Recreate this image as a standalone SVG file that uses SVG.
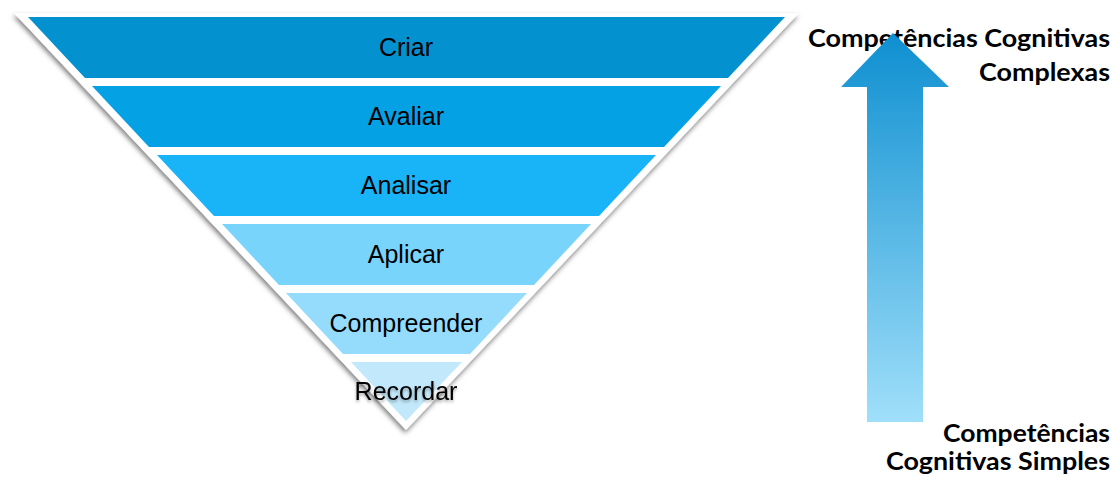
<svg xmlns="http://www.w3.org/2000/svg" width="1115" height="480" viewBox="0 0 1115 480">
<defs>
<filter id="sh" x="-10%" y="-10%" width="120%" height="130%">
<feDropShadow dx="-1" dy="3" stdDeviation="2.5" flood-color="#000" flood-opacity="0.5"/>
</filter>
<filter id="tsh" x="-10%" y="-30%" width="120%" height="160%">
<feDropShadow dx="0" dy="2" stdDeviation="1.5" flood-color="#000" flood-opacity="0.35"/>
</filter>
<linearGradient id="ag" x1="0" y1="0" x2="0" y2="1">
<stop offset="0" stop-color="#0E8FD0"/>
<stop offset="1" stop-color="#A0DFFA"/>
</linearGradient>
</defs>
<style>
.lbl{font-family:"Liberation Sans",Arial,sans-serif;font-size:25px;fill:#000;text-anchor:middle}
.side{font-family:Lato,"Open Sans",sans-serif;font-weight:bold;font-size:24px;fill:#000;text-anchor:end}
</style>
<rect width="1115" height="480" fill="#ffffff"/>
<g id="labels-side">
<text class="side" x="1110" y="47" textLength="302" lengthAdjust="spacingAndGlyphs">Competências Cognitivas</text>
<text class="side" x="1110" y="81" textLength="131" lengthAdjust="spacingAndGlyphs">Complexas</text>
<text class="side" x="1110" y="442" textLength="167" lengthAdjust="spacingAndGlyphs">Competências</text>
<text class="side" x="1110" y="470" textLength="224" lengthAdjust="spacingAndGlyphs">Cognitivas Simples</text>
</g>
<g id="arrow">
<path d="M893,33 L949,87 L923,87 L923,422 L867,422 L867,87 L841,87 Z" fill="url(#ag)"/>
</g>
<g id="pyramid-back">
<path d="M14,13 L799,13 L406,430 Z" fill="#ffffff" filter="url(#sh)"/>
</g>
<g id="criar">
<path d="M28,17 L785,17 L728,78 L85,78 Z" fill="#0491CF"/>
<text class="lbl" x="406" y="56">Criar</text>
</g>
<g id="avaliar">
<path d="M92,86 L721,86 L664,147 L149,147 Z" fill="#04A1E5"/>
<text class="lbl" x="406" y="125">Avaliar</text>
</g>
<g id="analisar">
<path d="M157,155 L656,155 L599,216 L214,216 Z" fill="#19B3F8"/>
<text class="lbl" x="406" y="194">Analisar</text>
</g>
<g id="aplicar">
<path d="M222,224 L591,224 L534,285 L279,285 Z" fill="#79D4FB"/>
<text class="lbl" x="406" y="263">Aplicar</text>
</g>
<g id="compreender">
<path d="M286,293 L527,293 L470,354 L343,354 Z" fill="#95DCFC"/>
<text class="lbl" x="406" y="332">Compreender</text>
</g>
<g id="recordar">
<path d="M351,362 L462,362 L406,421 Z" fill="#C2E9FB"/>
<text class="lbl" x="406" y="400" filter="url(#tsh)">Recordar</text>
</g>
</svg>
